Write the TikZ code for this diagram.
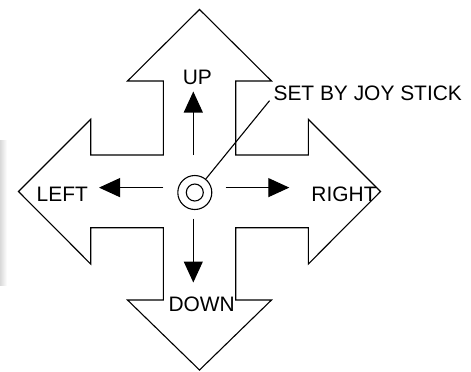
\documentclass[tikz,border=0pt]{standalone}
\usepackage{fontspec}
\setmainfont{Liberation Sans}
\usetikzlibrary{arrows.meta,positioning,calc}

\begin{document}
\begin{tikzpicture}[x=1bp,y=-1bp,line width=1.1bp,
	lbl/.style={inner sep=0pt,font=\fontsize{21}{25}\selectfont},
	dir/.style={-{Triangle[length=21bp,width=19bp]}},
	ring/.style={circle,draw,inner sep=0pt}]
	\useasboundingbox (0,0) rectangle (471,371);
	
	% smudge at the left edge
	\fill[left color=gray!30,right color=white,draw=none] (0,140) rectangle (7,285);
	
	% the cross of four arrows
	\draw[line join=miter] (199.5,9.5) -- (271.5,81) -- (235.7,81) -- (235.7,155) -- (308.3,155)
		-- (308.3,119.3) -- (380.5,191.5) -- (308.3,264) -- (308.3,227.7) -- (235.7,227.7)
		-- (235.7,300) -- (271.5,300) -- (199.5,370) -- (127.5,300) -- (163.3,300)
		-- (163.3,227.7) -- (90.7,227.7) -- (90.7,264) -- (18.5,191.5) -- (90.7,119.3)
		-- (90.7,155) -- (163.3,155) -- (163.3,81) -- (127.5,81) -- cycle;
	
	% joystick
	\node[ring,minimum size=34bp] (js) at (194.8,192.5) {};
	\node[ring,minimum size=17bp] (jsIn) at (js) {};
	
	% labels
	\node[lbl,anchor=base] (tUp) at (197.3,84) {UP};
	\node[lbl,anchor=base] (tDown) at (201.7,311.7) {DOWN};
	\node[lbl,anchor=base] (tLeft) at (62.3,201.7) {LEFT};
	\node[lbl,anchor=base] (tRight) at (344,201.7) {RIGHT};
	\node[lbl,anchor=base west] (tSet) at (273,100.7) {SET BY JOY STICK};
	
	% small arrows
	\coordinate (cUp0) at (193.3,155);     \coordinate (cUp1) at (193.3,91.5);
	\coordinate (cDown0) at (193.3,218.5); \coordinate (cDown1) at (193.3,282.5);
	\coordinate (cLeft0) at (163.3,187.6); \coordinate (cLeft1) at (99,187.6);
	\coordinate (cRight0) at (225.7,187.6); \coordinate (cRight1) at (289.3,187.6);
	\draw[dir] (cUp0) -- (cUp1);
	\draw[dir] (cDown0) -- (cDown1);
	\draw[dir] (cLeft0) -- (cLeft1);
	\draw[dir] (cRight0) -- (cRight1);
	
	% leader to the joystick
	\draw ($(tSet.base west)+(-3.5,0)$) -- (js);
\end{tikzpicture}
\end{document}
